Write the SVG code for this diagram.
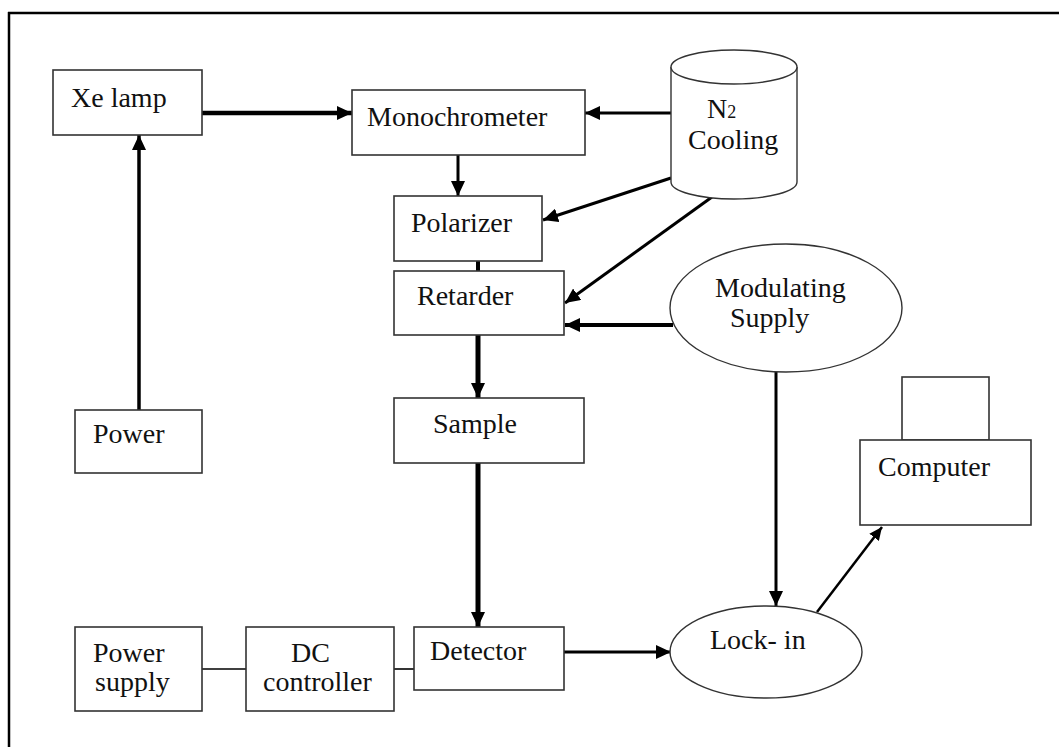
<svg xmlns="http://www.w3.org/2000/svg" width="1059" height="747" viewBox="0 0 1059 747">
<style>
.box{fill:#fff;stroke:#333;stroke-width:1.6}
.shape{fill:#fff;stroke:#333;stroke-width:1.4}
.lbl{font-family:"Liberation Serif","Times New Roman",serif;font-size:28px;fill:#111}
.c{stroke:#000;fill:none}
</style>
<defs>
<marker id="ah" markerUnits="userSpaceOnUse" markerWidth="16" markerHeight="14" refX="15" refY="7" orient="auto">
<path d="M0,0 L15,7 L0,14 z" fill="#000"/>
</marker>
<marker id="ahs" markerUnits="userSpaceOnUse" markerWidth="14" markerHeight="12" refX="13" refY="6" orient="auto">
<path d="M0,0 L13,6 L0,12 z" fill="#000"/>
</marker>
</defs>
<rect width="1059" height="747" fill="#fff"/>
<g id="frame">
<line x1="8" y1="13" x2="1059" y2="13" stroke="#000" stroke-width="2.5"/>
<line x1="9" y1="12" x2="9" y2="747" stroke="#000" stroke-width="2.5"/>
</g>
<g id="connectors">
<line class="c" x1="202" y1="113" x2="352" y2="113" stroke-width="4.5" marker-end="url(#ah)"/>
<line class="c" x1="671" y1="113" x2="585" y2="113" stroke-width="3" marker-end="url(#ah)"/>
<line class="c" x1="458" y1="155" x2="458" y2="196" stroke-width="3" marker-end="url(#ah)"/>
<line class="c" x1="671" y1="178" x2="543" y2="220" stroke-width="3" marker-end="url(#ah)"/>
<line class="c" x1="712" y1="197" x2="565" y2="303" stroke-width="3" marker-end="url(#ah)"/>
<line class="c" x1="478" y1="261" x2="478" y2="271" stroke-width="4"/>
<line class="c" x1="673" y1="325" x2="565" y2="325" stroke-width="4" marker-end="url(#ah)"/>
<line class="c" x1="478" y1="335" x2="478" y2="398" stroke-width="5" marker-end="url(#ah)"/>
<line class="c" x1="478" y1="463" x2="478" y2="627" stroke-width="5" marker-end="url(#ah)"/>
<line class="c" x1="139" y1="410" x2="139" y2="135" stroke-width="3.5" marker-end="url(#ah)"/>
<line class="c" x1="202" y1="669" x2="246" y2="669" stroke="#333" stroke-width="1.6"/>
<line class="c" x1="394" y1="669" x2="414" y2="669" stroke="#333" stroke-width="1.6"/>
<line class="c" x1="564" y1="652" x2="671" y2="652" stroke-width="3" marker-end="url(#ah)"/>
<line class="c" x1="776" y1="372" x2="776" y2="606" stroke-width="3" marker-end="url(#ah)"/>
<line class="c" x1="817" y1="612" x2="882" y2="527" stroke-width="2.5" marker-end="url(#ahs)"/>
</g>
<g id="xe-lamp">
<rect class="box" x="53" y="70" width="149" height="65"/>
<text class="lbl" x="71" y="107">Xe lamp</text>
</g>
<g id="monochrometer">
<rect class="box" x="352" y="90" width="233" height="65"/>
<text class="lbl" x="367" y="126">Monochrometer</text>
</g>
<g id="n2-cooling">
<path class="shape" d="M671,67 L671,182 A63,17 0 0 0 797,182 L797,67"/>
<ellipse class="shape" cx="734" cy="67" rx="63" ry="17"/>
<text class="lbl" x="707" y="118">N<tspan font-size="18">2</tspan></text>
<text class="lbl" x="688" y="149">Cooling</text>
</g>
<g id="polarizer">
<rect class="box" x="394" y="196" width="148" height="65"/>
<text class="lbl" x="411" y="232">Polarizer</text>
</g>
<g id="retarder">
<rect class="box" x="394" y="271" width="170" height="64"/>
<text class="lbl" x="417" y="305">Retarder</text>
</g>
<g id="modulating-supply">
<ellipse class="shape" cx="786" cy="308" rx="116" ry="64"/>
<text class="lbl" x="715" y="297">Modulating</text>
<text class="lbl" x="730" y="327">Supply</text>
</g>
<g id="sample">
<rect class="box" x="394" y="398" width="190" height="65"/>
<text class="lbl" x="433" y="433">Sample</text>
</g>
<g id="power">
<rect class="box" x="75" y="410" width="127" height="63"/>
<text class="lbl" x="93" y="443">Power</text>
</g>
<g id="computer">
<rect class="box" x="902" y="377" width="87" height="63"/>
<rect class="box" x="860" y="440" width="171" height="85"/>
<text class="lbl" x="878" y="476">Computer</text>
</g>
<g id="power-supply">
<rect class="box" x="75" y="627" width="127" height="84"/>
<text class="lbl" x="93" y="662">Power</text>
<text class="lbl" x="95" y="691">supply</text>
</g>
<g id="dc-controller">
<rect class="box" x="246" y="627" width="148" height="84"/>
<text class="lbl" x="291" y="662">DC</text>
<text class="lbl" x="263" y="691">controller</text>
</g>
<g id="detector">
<rect class="box" x="414" y="627" width="150" height="63"/>
<text class="lbl" x="430" y="660">Detector</text>
</g>
<g id="lock-in">
<ellipse class="shape" cx="766" cy="652" rx="96" ry="46"/>
<text class="lbl" x="710" y="649">Lock- in</text>
</g>
</svg>
